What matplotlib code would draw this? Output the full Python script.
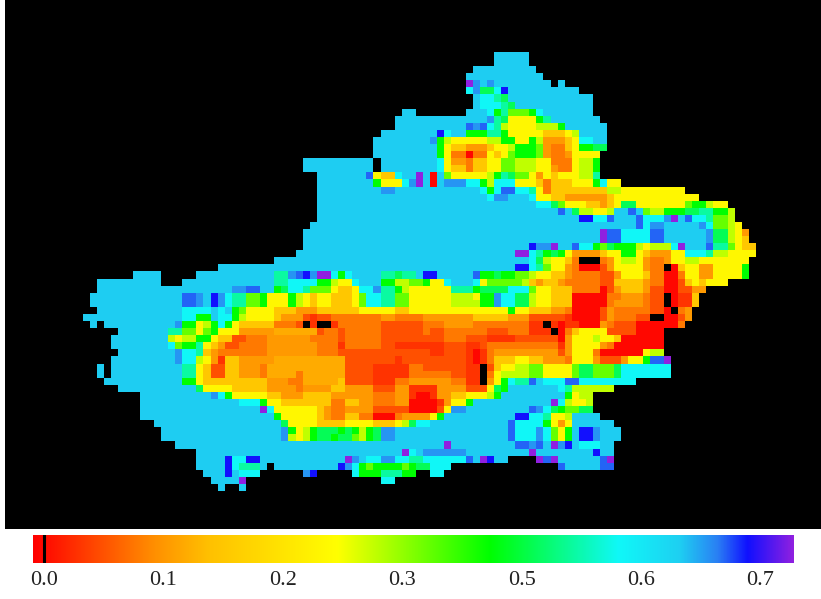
import numpy as np
import matplotlib as mpl
mpl.use('Agg')
import matplotlib.pyplot as plt
from matplotlib.colors import LinearSegmentedColormap

# colour scale: position along the bar and its colour
scale_pos = [0.0, 0.02, 0.09, 0.16, 0.23, 0.40, 0.60, 0.77, 0.85, 0.90, 0.94, 1.0]
scale_col = ['#ff0000', '#ff1000', '#ff5000', '#ff9000', '#ffc000', '#ffff00', '#00ff00',
             '#10f8f8', '#1ed0f2', '#2a80f4', '#1010ff', '#9020e0']
tick_pos = [0.0145, 0.1715, 0.329, 0.486, 0.643, 0.8, 0.957]
tick_labels = ['0.0', '0.1', '0.2', '0.3', '0.5', '0.6', '0.7']
bar_mark = 0.0145

# letter -> level
codes = 'RrdoahmylgGstCcubBp'
levels = [0.01, 0.06, 0.09, 0.135, 0.175, 0.20, 0.25, 0.38, 0.45, 0.52, 0.60, 0.66, 0.71,
          0.77, 0.85, 0.885, 0.91, 0.94, 1.0]

# one row per line: "<first column><letter>" runs, '.' is no data
rows = [
    '58c 63.',
    '58c 63.',
    '55c 64.',
    '54c 65.',
    '54p 55u 56c 57u 58c 66. 67c 68.',
    '54C 55u 56s 58C 59B 60c 70.',
    '55c 56C 58t 59s 60c 72.',
    '55c 56C 59t 60s 61c 72.',
    '45c 47. 54c 57C 58G 59t 60g 63G 64C 65c 72.',
    '44c 57u 58t 59s 60y 64G 65t 66c 73.',
    '44c 54b 55u 56b 57C 58t 59l 60y 64l 67G 68c 74.',
    '42c 50B 51C 52c 54G 57t 59G 60y 65m 68y 69l 70c 74.',
    '41c 49u 50G 51l 52y 57l 59G 61y 63G 64l 65a 68m 69y 70C 72c 74.',
    '41c 50G 51y 52m 54a 57m 58y 60l 61G 64g 65a 66o 68m 69y 70G 72s 74.',
    '41c 50G 51y 52o 54R 55o 57y 58m 59y 60g 61G 64g 65a 66o 68a 69y 73.',
    '31c 41. 42c 50C 51y 52a 54o 55m 57y 59g 61l 64y 66o 69y 70l 72G 73.',
    '31c 41. 42c 50C 51y 52m 54o 55m 57y 59g 61l 64y 66a 67o 69y 70l 72G 73.',
    '33c 40b 41y 42m 44C 45c 47p 48c 49R 50c 51g 52y 57l 58G 59t 60s 61g 63y 64a 65y 66m 67y 70l 72t 73.',
    '33c 41G 42y 45C 46u 47p 48c 49R 50c 51u 54C 56G 57l 58C 61y 64m 65o 66m 69y 72G 73C 74y 76.',
    '33c 42u 44c 56C 57G 58C 59b 61C 63t 64y 65o 66m 74l 76y 85.',
    '33c 57C 58u 60c 63C 64y 66m 68a 74m 75y 87.',
    '33c 64C 66s 67g 68y 71m 73a 74m 75y 76s 78y 85g 86G 88l 89y 91.',
    '33c 67b 68c 69s 70l 72y 74l 75c 77b 78c 79g 80l 82G 85s 87t 89G 91l 92.',
    '33c 70B 72C 74b 75c 78b 79C 82u 83p 84c 85b 86C 88t 89g 91l 92.',
    '32c 78b 79C 80u 82c 87u 88C 89g 91l 92y 93.',
    '31c 73p 74b 76C 80b 82c 88u 89s 91l 92y 93a 94.',
    '31c 73p 74b 76C 80b 82c 88u 89s 91l 92y 93m 94.',
    '31c 63B 64u 66p 67c 69b 70C 72G 73g 74s 75G 78l 79y 80l 83C 84p 85c 88b 89t 91g 92y 93m 95.',
    '30c 61p 63C 64t 65G 66s 67G 68y 69a 73m 74y 76G 78y 79m 80a 83y 85C 88t 89l 91y 95.',
    '27c 63C 64s 65l 66y 68m 69o 70. 73o 74a 75y 76l 78y 79a 80o 82a 83y 85l 87y 94.',
    '19c 61B 63C 64t 65g 66y 68a 69o 70R 73d 74a 75y 79a 80o 82. 83R 84m 85y 87a 89y 93G 94.',
    '7c 11. 16c 27t 29u 30b 31B 32u 33p 35C 36G 37C 38c 42t 44s 45t 47c 48B 50c 55b 56G 58s 59G 61g 63l 64y 66m 68a 69o 73d 75a 76y 79m 80o 82R 84o 85y 87a 89y 93G 94.',
    '2c 11. 14c 27t 29C 33G 35l 36y 38C 39c 42G 44l 46g 48G 49y 51C 52c 55C 56y 57g 62l 63m 64a 65m 67a 68o 73d 75m 79a 80o 82R 84d 85m 86y 87m 88y 91.',
    '2c 21u 23b 25c 27G 28s 29C 31t 32g 35y 36m 38y 39C 41u 42t 44G 45l 46y 52t 55G 56s 60C 63g 64y 66m 69o 73R 74d 75a 76m 79a 80d 82R 84d 86a 88.',
    '1c 14b 16u 17c 18B 19u 20C 21t 23g 25G 26y 29G 30l 31y 32m 33y 35m 38y 39g 40C 42t 44g 46y 52l 55y 56G 58u 59C 61s 63l 64y 66m 69R 74o 76a 79o 80d 82. 83R 84r 86m 87.',
    '1c 14b 16u 17c 18B 19u 20C 21t 23g 25G 26y 29G 30l 31y 32m 33y 35m 38y 39g 40C 42t 44g 46y 52l 56G 58u 59C 61s 63l 64y 66m 69R 74o 75a 79o 80d 82. 83R 84r 86m 87.',
    '2c 14C 18c 19C 20c 21G 22g 23y 27m 30a 33m 39y 44m 46y 60G 61y 63m 66a 68o 69R 73d 74a 75o 80d 82R 83. 84o 85a 86.',
    '0c 14C 16G 18c 19C 21G 22l 23y 27m 28a 31d 32r 33d 35o 42a 44o 48a 55m 60a 63d 68r 69R 73d 74a 75o 78d 80. 82R 84d 85a 86.',
    '1c 2. 3c 13u 14G 16y 17l 18G 19C 20G 21y 22m 27o 30d 31. 32r 33. 35r 36o 42d 48o 51a 55o 63r 65. 66r 67R 68r 70R 73a 74o 75d 78R 84o 85.',
    '5c 12t 14g 16y 17g 18G 19y 22a 27h 33d 34o 36d 37o 42d 48o 49d 51o 57d 60o 63r 66. 67R 68o 69m 70y 74d 78R 82.',
    '4c 12l 13y 14l 16G 18y 19m 21d 23o 26a 32o 36d 37o 42d 51o 54d 57r 61d 67R 68a 69y 72l 73y 75m 76R 82.',
    '4c 12C 13g 14G 16t 17y 18m 19a 20d 22o 26a 33o 36r 37o 42d 44r 51d 54r 56d 57o 67r 68a 69y 73a 74o 75R 82.',
    '5c 13u 14C 16t 17m 18a 19o 26a 33o 36d 49r 51d 54r 55R 56r 57o 58a 67d 68a 69y 72o 73R 79y 80l 82.',
    '4c 13u 14C 16l 17y 18a 19r 20m 22a 27h 37d 44r 45d 54r 55R 56r 57o 58m 61y 63m 65a 68o 69y 72a 73d 76a 77y 79G 80b 82p 83.',
    '2c 3. 4c 14t 16y 17m 18d 20m 22a 25o 26h 37d 41r 46o 48d 54r 56. 57d 58m 59y 61l 63g 65y 69g 70s 72g 75s 76C 83.',
    '2c 3. 4c 14t 16y 17m 18d 20m 22a 25o 26h 30o 31h 37d 41r 46o 52d 54r 56. 57o 58y 59l 63g 65y 69g 70s 72g 75s 76C 83.',
    '3c 14G 16y 17m 26a 29o 31h 36m 37d 41r 44o 46a 52o 54r 56. 57a 58y 59G 60C 61t 63b 64c 65C 68b 70C 78.',
    '5c 16s 17y 21m 26a 30o 31a 35m 37a 41d 44a 46r 50a 54d 57y 58s 59G 60c 67C 68t 69l 75.',
    '8c 18u 19C 20G 21y 26m 28a 31m 35a 41o 44a 46r 47R 49r 50a 52m 54y 57l 58G 59c 68G 69y 70l 72.',
    '8c 22C 25G 26y 28m 35o 37m 39a 41o 44a 46R 50r 51a 52y 54G 55c 66p 67C 68l 69y 71l 72.',
    '8c 25p 26C 27y 33m 34a 35o 37a 41d 46R 50d 51y 52u 54c 63b 64u 65C 66s 67G 68g 70s 72.',
    '8c 27G 28y 33m 34a 35o 37m 39o 41R 44o 45a 49y 50G 51c 61B 63C 65t 66y 68l 69c 73.',
    '10c 28s 29y 33m 37y 41m 44y 45l 46s 47C 49c 60b 61C 65G 66y 67a 68y 69c 75.',
    '11c 28u 29G 30y 31l 32G 33s 36G 37s 38G 39l 40G 41s 42u 44c 60b 61C 64u 65C 66g 67y 68G 69c 70B 72u 73c 76.',
    '11c 28u 29l 30y 31l 32G 33s 35G 36s 38g 39l 40G 41s 42u 44c 60b 61C 64u 65C 66g 67y 68G 69c 70B 72u 73c 76.',
    '13c 51p 52c 61b 63u 64b 65c 66p 67u 68B 69c 70C 73c 75.',
    '16c 45p 46C 47c 48u 54c 63p 64c 72B 73c 75.',
    '16c 20B 21C 23B 25c 37p 38u 39c 40C 42u 44C 46t 48C 54b 55c 56p 57B 58c 60. 64p 65b 66p 67c 73b 74p 75.',
    '16c 20B 21C 22t 25c 26. 27c 36B 37u 38C 39G 40g 41G 45g 46G 47s 49C 52. 67b 68c 73b 75.',
    '17c 20B 21c 22C 25. 31u 32B 33. 38C 39G 42t 45G 47. 49C 51.',
    '18c 22p 23. 42C 44.',
    '19c 20. 22c 23.',
]

n_cols = 95
n_rows = len(rows)
grid = np.full((n_rows, n_cols), np.nan)
for r, line in enumerate(rows):
    toks = line.split()
    for i, tok in enumerate(toks[:-1]):
        start = int(tok[:-1])
        stop = int(toks[i + 1][:-1])
        if tok[-1] != '.':
            grid[r, start:stop] = levels[codes.index(tok[-1])]

cmap = LinearSegmentedColormap.from_list('bar', list(zip(scale_pos, scale_col)), N=512)
cmap.set_bad('black')

W, H = 821.0, 599.0
fig = plt.figure(figsize=(W / 100, H / 100), dpi=100, facecolor='white')

# map panel, limits in grid cells so one cell is about 7.08 px
cell = 7.08
ax = fig.add_axes([5 / W, (H - 529) / H, 816 / W, 529 / H], facecolor='black')
ax.imshow(np.ma.masked_invalid(grid), cmap=cmap, vmin=0, vmax=1, aspect='auto',
          interpolation='nearest')
ax.set_xlim((5 - 82.7) / cell - 0.5, (821 - 82.7) / cell - 0.5)
ax.set_ylim((529 - 51.7) / cell - 0.5, (0 - 51.7) / cell - 0.5)
ax.set_xticks([])
ax.set_yticks([])
for s in ax.spines.values():
    s.set_visible(False)

# colour bar
cax = fig.add_axes([33 / W, (H - 563) / H, 760 / W, 28 / H])
cax.imshow(np.linspace(0, 1, 512)[None, :], cmap=cmap, vmin=0, vmax=1, aspect='auto',
           extent=[0, 1, 0, 1])
cax.axvline(bar_mark, color='black', lw=2.2)
cax.set_yticks([])
cax.set_xticks(tick_pos)
cax.set_xticklabels(tick_labels, family='Liberation Serif', fontsize=16)
cax.tick_params(axis='x', length=0, pad=6, colors='#222222')
for s in cax.spines.values():
    s.set_visible(False)

plt.savefig('out.png', dpi=100)
